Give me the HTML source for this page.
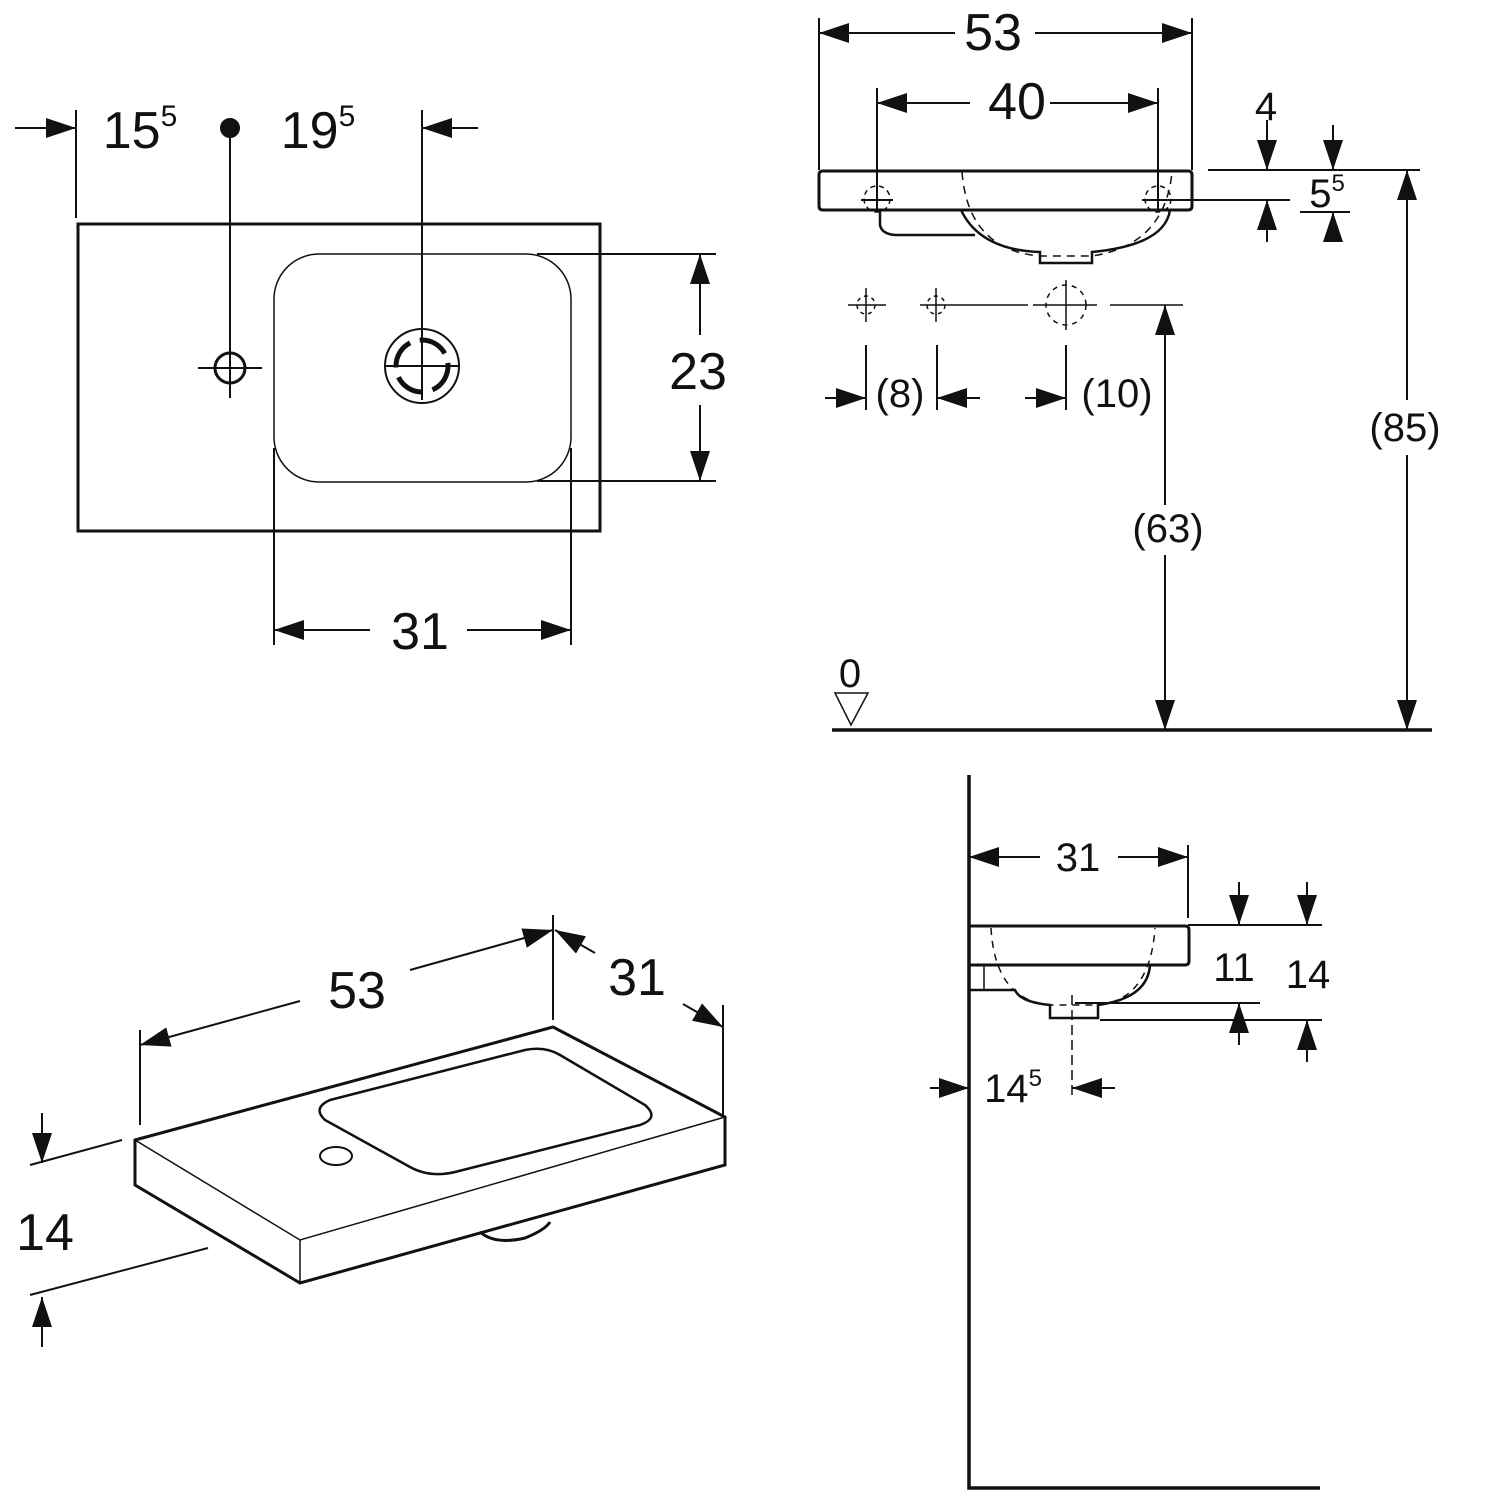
<!DOCTYPE html>
<html><head><meta charset="utf-8"><style>
html,body{margin:0;padding:0;background:#fff}
svg{display:block}
text{font-family:"Liberation Sans",sans-serif;fill:#111}
</style></head><body>
<svg width="1500" height="1500" viewBox="0 0 1500 1500" xmlns="http://www.w3.org/2000/svg">
<defs>
<marker id="a" viewBox="0 0 30 20" refX="30" refY="10" markerWidth="30" markerHeight="20" markerUnits="userSpaceOnUse" orient="auto"><path d="M0,0 L30,10 L0,20 Z" fill="#111"/></marker>
<marker id="b" viewBox="0 0 30 20" refX="0" refY="10" markerWidth="30" markerHeight="20" markerUnits="userSpaceOnUse" orient="auto"><path d="M30,0 L0,10 L30,20 Z" fill="#111"/></marker>
</defs>
<g stroke="#111" fill="none" stroke-width="2">
<!-- TOP LEFT plan -->
<rect x="78" y="224" width="522" height="307" stroke-width="3"/>
<rect x="274" y="254" width="297" height="228" rx="45" stroke-width="1.5"/>
<line x1="76" y1="110" x2="76" y2="218"/>
<line x1="15" y1="128" x2="76" y2="128" marker-end="url(#a)"/>
<line x1="478" y1="128" x2="422" y2="128" marker-end="url(#a)"/>
<line x1="230" y1="128" x2="230" y2="398"/>
<circle cx="230" cy="128" r="9" fill="#111"/>
<circle cx="230" cy="368" r="15" stroke-width="3"/>
<line x1="198" y1="368" x2="262" y2="368"/>
<line x1="422" y1="110" x2="422" y2="400"/>
<circle cx="422" cy="366" r="37"/>
<circle cx="422" cy="366" r="26" stroke-width="5" stroke-dasharray="30 10"/>
<line x1="384" y1="366" x2="460" y2="366"/>
<line x1="537" y1="254" x2="716" y2="254"/>
<line x1="537" y1="481" x2="716" y2="481"/>
<line x1="700" y1="254" x2="700" y2="335" marker-start="url(#b)"/>
<line x1="700" y1="405" x2="700" y2="481" marker-end="url(#a)"/>
<line x1="274" y1="448" x2="274" y2="645"/>
<line x1="571" y1="448" x2="571" y2="645"/>
<line x1="274" y1="630" x2="370" y2="630" marker-start="url(#b)"/>
<line x1="467" y1="630" x2="571" y2="630" marker-end="url(#a)"/>

<!-- TOP RIGHT elevation -->
<line x1="819" y1="18" x2="819" y2="170"/>
<line x1="1192" y1="18" x2="1192" y2="170"/>
<line x1="819" y1="33" x2="955" y2="33" marker-start="url(#b)"/>
<line x1="1035" y1="33" x2="1192" y2="33" marker-end="url(#a)"/>
<line x1="877" y1="88" x2="877" y2="212"/>
<line x1="1158" y1="88" x2="1158" y2="212"/>
<line x1="877" y1="103" x2="970" y2="103" marker-start="url(#b)"/>
<line x1="1050" y1="103" x2="1158" y2="103" marker-end="url(#a)"/>
<path d="M823,171 L1188,171 Q1192,171 1192,175 L1192,206 Q1192,210 1188,210 L823,210 Q819,210 819,206 L819,175 Q819,171 823,171 Z" stroke-width="3"/>
<path d="M880,210 L880,225 Q882,235 898,235 L975,235" stroke-width="2.5"/>
<path d="M961,210 Q980,250 1040,252 L1040,263 L1092,263 L1092,252 Q1165,245 1170,210" stroke-width="2.5"/>
<path d="M962,172 Q968,250 1040,256 L1092,256 Q1165,245 1172,172" stroke-dasharray="8 6" stroke-width="1.5"/>
<circle cx="877" cy="199" r="13" stroke-dasharray="5 4" stroke-width="1.5"/>
<line x1="861" y1="200" x2="893" y2="200"/>
<circle cx="1158" cy="199" r="13" stroke-dasharray="5 4" stroke-width="1.5"/>
<line x1="1142" y1="200" x2="1290" y2="200"/>
<line x1="1208" y1="170" x2="1420" y2="170"/>
<line x1="1267" y1="120" x2="1267" y2="170" marker-end="url(#a)"/>
<line x1="1267" y1="242" x2="1267" y2="200" marker-end="url(#a)"/>
<line x1="1333" y1="125" x2="1333" y2="170" marker-end="url(#a)"/>
<line x1="1333" y1="240" x2="1333" y2="212" marker-end="url(#a)"/>
<line x1="1300" y1="212" x2="1350" y2="212"/>
<g stroke-width="1.5">
<line x1="848" y1="305" x2="886" y2="305"/><line x1="866" y1="288" x2="866" y2="322"/><circle cx="866" cy="305" r="9" stroke-dasharray="4 4"/>
<line x1="920" y1="305" x2="1028" y2="305"/><line x1="936" y1="288" x2="936" y2="322"/><circle cx="936" cy="305" r="9" stroke-dasharray="4 4"/>
<line x1="1033" y1="305" x2="1097" y2="305"/><line x1="1066" y1="280" x2="1066" y2="330"/><circle cx="1066" cy="305" r="20" stroke-dasharray="5 5"/>
<line x1="1110" y1="305" x2="1183" y2="305"/>
</g>
<line x1="866" y1="345" x2="866" y2="410"/>
<line x1="937" y1="345" x2="937" y2="410"/>
<line x1="1066" y1="345" x2="1066" y2="410"/>
<line x1="825" y1="398" x2="866" y2="398" marker-end="url(#a)"/>
<line x1="980" y1="398" x2="937" y2="398" marker-end="url(#a)"/>
<line x1="1025" y1="398" x2="1066" y2="398" marker-end="url(#a)"/>
<line x1="1165" y1="305" x2="1165" y2="505" marker-start="url(#b)"/>
<line x1="1165" y1="555" x2="1165" y2="730" marker-end="url(#a)"/>
<line x1="1407" y1="170" x2="1407" y2="400" marker-start="url(#b)"/>
<line x1="1407" y1="455" x2="1407" y2="730" marker-end="url(#a)"/>
<line x1="832" y1="730" x2="1432" y2="730" stroke-width="3.5"/>
<path d="M835,693 L868,693 L851,725 Z" stroke-width="1.5"/>

<!-- BOTTOM RIGHT section -->
<path d="M969,775 L969,1488 L1320,1488" stroke-width="3.5"/>
<line x1="1188" y1="845" x2="1188" y2="918"/>
<line x1="969" y1="857" x2="1040" y2="857" marker-start="url(#b)"/>
<line x1="1118" y1="857" x2="1188" y2="857" marker-end="url(#a)"/>
<path d="M969,926 L1185,926 Q1189,926 1189,930 L1189,961 Q1189,965 1185,965 L969,965" stroke-width="3"/>
<path d="M969,990 L1015,990 Q1020,1002 1050,1005 L1050,1018 L1098,1018 L1098,1005 Q1148,998 1150,965" stroke-width="2.5"/>
<line x1="984" y1="965" x2="984" y2="990" stroke-width="1.5"/>
<path d="M991,928 Q995,1000 1050,1005 L1098,1005 Q1150,1000 1155,928" stroke-dasharray="7 6" stroke-width="1.5"/>
<line x1="1188" y1="925" x2="1322" y2="925"/>
<line x1="1075" y1="1003" x2="1260" y2="1003"/>
<line x1="1100" y1="1020" x2="1322" y2="1020"/>
<line x1="1239" y1="882" x2="1239" y2="925" marker-end="url(#a)"/>
<line x1="1307" y1="882" x2="1307" y2="925" marker-end="url(#a)"/>
<line x1="1239" y1="1045" x2="1239" y2="1003" marker-end="url(#a)"/>
<line x1="1307" y1="1062" x2="1307" y2="1020" marker-end="url(#a)"/>
<line x1="1072" y1="995" x2="1072" y2="1100" stroke-dasharray="10 5" stroke-width="1.5"/>
<line x1="930" y1="1088" x2="969" y2="1088" marker-end="url(#a)"/>
<line x1="1115" y1="1088" x2="1072" y2="1088" marker-end="url(#a)"/>

<!-- BOTTOM LEFT iso -->
<path d="M135,1140 L553,1027 L725,1117 L725,1165 L300,1283 L135,1185 Z" stroke-width="3"/>
<path d="M135,1140 L300,1240 L725,1117" stroke-width="1.5"/>
<line x1="300" y1="1240" x2="300" y2="1283" stroke-width="1.5"/>
<path d="M330,1100 L525,1050 Q545,1046 560,1055 L645,1105 Q660,1118 640,1125 L455,1172 Q430,1178 410,1167 L325,1120 Q312,1108 330,1100 Z" stroke-width="2.5"/>
<ellipse cx="336" cy="1156" rx="16" ry="9" stroke-width="2"/>
<path d="M480,1232 Q495,1245 525,1238 Q545,1230 550,1222" stroke-width="3"/>
<line x1="140" y1="1030" x2="140" y2="1125"/>
<line x1="553" y1="915" x2="553" y2="1020"/>
<line x1="723" y1="1005" x2="723" y2="1115"/>
<line x1="140" y1="1045" x2="300" y2="1001" marker-start="url(#b)"/>
<line x1="410" y1="970" x2="553" y2="930" marker-end="url(#a)"/>
<line x1="555" y1="930" x2="595" y2="953" marker-start="url(#b)"/>
<line x1="683" y1="1004" x2="723" y2="1027" marker-end="url(#a)"/>
<line x1="30" y1="1165" x2="122" y2="1140"/>
<line x1="30" y1="1295" x2="208" y2="1248"/>
<line x1="42" y1="1113" x2="42" y2="1163" marker-end="url(#a)"/>
<line x1="42" y1="1347" x2="42" y2="1297" marker-end="url(#a)"/>
</g>
<g font-size="52" text-anchor="middle">
<text x="140" y="148">15<tspan font-size="30" dy="-22">5</tspan></text>
<text x="318" y="148">19<tspan font-size="30" dy="-22">5</tspan></text>
<text x="698" y="389">23</text>
<text x="420" y="649">31</text>
<text x="993" y="50">53</text>
<text x="1017" y="119">40</text>
<text x="357" y="1008">53</text>
<text x="637" y="995">31</text>
<text x="45" y="1250">14</text>
</g>
<g font-size="40" text-anchor="middle">
<text x="1266" y="120">4</text>
<text x="1327" y="207">5<tspan font-size="24" dy="-16">5</tspan></text>
<text x="900" y="407">(8)</text>
<text x="1117" y="407">(10)</text>
<text x="1168" y="542">(63)</text>
<text x="1405" y="441">(85)</text>
<text x="850" y="687">0</text>
<text x="1078" y="871">31</text>
<text x="1234" y="981">11</text>
<text x="1308" y="988">14</text>
<text x="1013" y="1102">14<tspan font-size="24" dy="-16">5</tspan></text>
</g>
</svg>
</body></html>
